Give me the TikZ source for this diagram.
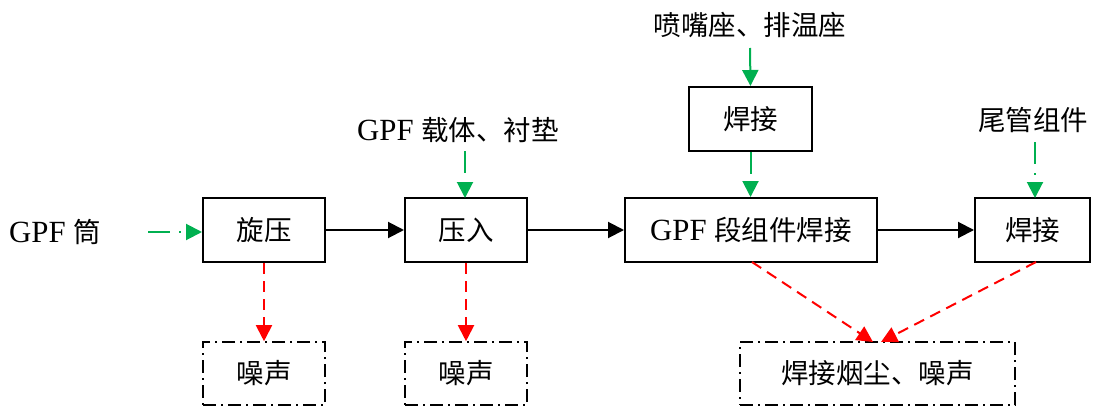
\documentclass[tikz,border=0pt]{standalone}
\usepackage{fontspec}
\setmainfont{Liberation Serif}[Scale=1.12]
\newfontfamily\cjk{Noto Sans CJK SC}
\usetikzlibrary{arrows.meta}
\definecolor{ggreen}{RGB}{0,176,80}
\begin{document}
\begin{tikzpicture}[x=1pt,y=-1pt,
  every node/.style={font=\fontsize{27.5}{32}\selectfont},
  box/.style={draw,line width=2pt,minimum height=64pt,inner sep=0pt},
  outbox/.style={draw,line width=1.6pt,minimum height=63pt,inner sep=0pt,dash pattern=on 13pt off 5pt on 2pt off 5pt},
  lbl/.style={inner sep=0pt},
  tip/.style={-{Triangle[length=16pt,width=16pt]}},
  flow/.style={tip,line width=2pt},
  gin/.style={tip,ggreen,line width=2pt,dash pattern=on 22pt off 9pt on 2pt off 9pt},
  gdash/.style={tip,ggreen,line width=2pt,dash pattern=on 22pt off 10pt},
  rout/.style={tip,red,line width=2pt,dash pattern=on 11pt off 7pt}]
\useasboundingbox (0,0) rectangle (1102,409);
\node[box,minimum width=122pt] (xy) at (264,230) {\cjk 旋压};
\node[box,minimum width=122pt] (yr) at (466,230) {\cjk 压入};
\node[box,minimum width=252pt] (dz) at (751,230) {GPF {\cjk 段组件焊接}};
\node[box,minimum width=115pt] (hj2) at (1032.5,230) {\cjk 焊接};
\node[box,minimum width=123pt] (hj1) at (750.5,119) {\cjk 焊接};
\node[lbl] (pz) at (750,25) {\cjk 喷嘴座、排温座};
\node[lbl] (zt) at (458,130) {GPF {\cjk 载体、衬垫}};
\node[lbl] (wg) at (1033,120) {\cjk 尾管组件};
\node[lbl] (tong) at (55,232) {GPF {\cjk 筒}};
\node[outbox,minimum width=122pt] (zs1) at (264,373.5) {\cjk 噪声};
\node[outbox,minimum width=122pt] (zs2) at (466,373.5) {\cjk 噪声};
\node[outbox,minimum width=275pt] (yc) at (877.5,373.5) {\cjk 焊接烟尘、噪声};
\coordinate (s1) at (148,232);
\draw[gin] (s1) -- (xy.west |- s1);
\draw[flow] (xy) -- (yr);
\draw[flow] (yr) -- (dz);
\draw[flow] (dz) -- (hj2);
\draw[gdash] (750,48) -- (hj1.north);
\draw[gdash] (hj1.south) -- (hj1.south |- dz.north);
\draw[gin] (465,151) -- (465,198);
\draw[gin] (1035,142) -- (1035,198);
\draw[rout] (xy.south) -- (zs1.north);
\draw[rout] (yr.south) -- (zs2.north);
\draw[rout] (752,262) -- (873,342);
\draw[rout] (1036,262) -- (881,342);
\end{tikzpicture}
\end{document}
